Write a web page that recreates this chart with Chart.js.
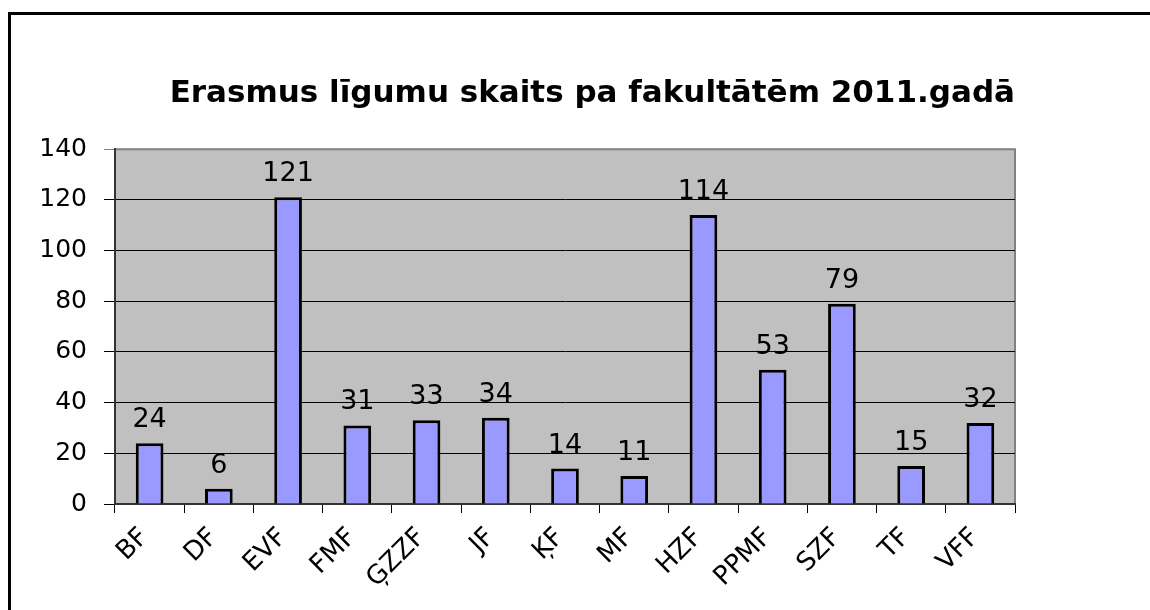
<!DOCTYPE html>
<html>
<head>
<meta charset="utf-8">
<title>Erasmus līgumu skaits</title>
<script src="https://cdn.jsdelivr.net/npm/chart.js@4"></script>
<style>
	html, body { margin: 0; padding: 0; background: #fff; }
	canvas { display: block; }
</style>
</head>
<body>
<canvas id="barChart" width="1150" height="610"></canvas>
<script>
const faculties = ['BF', 'DF', 'EVF', 'FMF', 'ĢZZF', 'JF', 'ĶF', 'MF', 'HZF', 'PPMF', 'SZF', 'TF', 'VFF'];
const agreements = [24, 6, 121, 31, 33, 34, 14, 11, 114, 53, 79, 15, 32];
const yTicks = [0, 20, 40, 60, 80, 100, 120, 140];

const FONT = 'DejaVu Sans';

// white page, frame lines, grey plot area
const framePlugin = {
	id: 'frame',
	beforeDraw(chart) {
		const { ctx, chartArea: a } = chart;
		ctx.save();
		ctx.fillStyle = '#fff';
		ctx.fillRect(0, 0, chart.width, chart.height);
		ctx.strokeStyle = '#000';
		ctx.lineWidth = 3;
		ctx.beginPath();
		ctx.moveTo(9.5, chart.height);
		ctx.lineTo(9.5, 13.5);
		ctx.lineTo(chart.width, 13.5);
		ctx.stroke();
		ctx.fillStyle = '#c0c0c0';
		ctx.fillRect(a.left, a.top, a.right - a.left, a.bottom - a.top);
		ctx.strokeStyle = '#808080';
		ctx.lineWidth = 2;
		ctx.beginPath();
		ctx.moveTo(a.left, a.top);
		ctx.lineTo(a.right, a.top);
		ctx.lineTo(a.right, a.bottom);
		ctx.stroke();
		ctx.restore();
	},
};

// numbers above the bars
const valueLabels = {
	id: 'valueLabels',
	afterDatasetsDraw(chart) {
		const { ctx } = chart;
		const meta = chart.getDatasetMeta(0);
		ctx.save();
		ctx.font = '27px "' + FONT + '"';
		ctx.fillStyle = '#000';
		ctx.textAlign = 'center';
		ctx.textBaseline = 'alphabetic';
		meta.data.forEach((bar, i) => {
			ctx.fillText(String(agreements[i]), bar.x, bar.y - 16);
		});
		ctx.restore();
	},
};

new Chart(document.getElementById('barChart'), {
	type: 'bar',
	data: {
		labels: faculties,
		datasets: [
			{
				data: agreements,
				backgroundColor: '#9999ff',
				borderColor: '#000',
				borderWidth: 3,
				barPercentage: 0.4,
				categoryPercentage: 1,
			},
		],
	},
	options: {
		responsive: false,
		animation: false,
		devicePixelRatio: 1,
		layout: { padding: { left: 0, right: 135, top: 0, bottom: 0 } },
		plugins: {
			legend: { display: false },
			tooltip: { enabled: false },
			title: {
				display: true,
				align: 'end',
				text: 'Erasmus līgumu skaits pa fakultātēm 2011.gadā',
				color: '#000',
				font: { family: FONT, size: 31, weight: 'bold' },
				padding: { top: 75, bottom: 37 },
			},
		},
		scales: {
			y: {
				min: 0,
				max: 140,
				afterBuildTicks: scale => {
					scale.ticks = yTicks.map(v => ({ value: v }));
				},
				afterFit: scale => {
					scale.width = 115;
				},
				ticks: {
					color: '#000',
					padding: 17,
					font: { family: FONT, size: 25 },
				},
				grid: {
					color: ctx => (ctx.tick && ctx.tick.value === 140 ? '#808080' : '#000'),
					lineWidth: 1,
					tickLength: 11,
				},
				border: { color: '#333', width: 2 },
			},
			x: {
				afterFit: scale => {
					scale.height = 106;
				},
				ticks: {
					color: '#000',
					minRotation: 45,
					maxRotation: 45,
					padding: 9,
					labelOffset: -5,
					autoSkip: false,
					font: { family: FONT, size: 26 },
				},
				grid: {
					drawOnChartArea: false,
					color: '#000',
					tickLength: 9,
				},
				border: { color: '#333', width: 2 },
			},
		},
	},
	plugins: [framePlugin, valueLabels],
});
</script>
</body>
</html>
